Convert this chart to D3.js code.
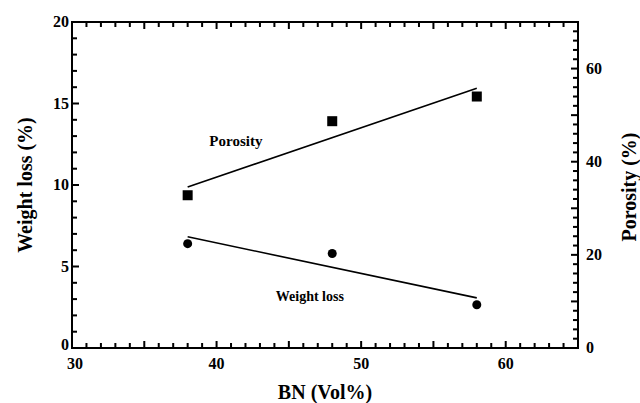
<!DOCTYPE html>
<html>
<head>
<meta charset="utf-8">
<script src="https://cdn.jsdelivr.net/npm/d3@7"></script>
<style>
  body { margin: 0; background: #fff; }
  text { font-family: "Liberation Serif", "Times New Roman", serif; font-weight: bold; fill: #000; }
</style>
</head>
<body>
<div id="chart"></div>
<script>
// BN content (Vol%)
var bn = [38, 48, 58]
// Porosity (%) - right axis, squares
var porosity = [32.8, 48.7, 54.0]
// Weight loss (%) - left axis, circles
var weightLoss = [6.4, 5.8, 2.65]

var xTickLabels = [30, 40, 50, 60]
var leftTickLabels = [0, 5, 10, 15, 20]
var rightTickLabels = [0, 20, 40, 60]

var width = 640, height = 403
var margin = { top: 22, right: 62, bottom: 55, left: 72 }

var svg = d3.select("#chart").append("svg")
    .attr("width", width)
    .attr("height", height)

var x = d3.scaleLinear().domain([30, 65]).range([margin.left, width - margin.right])
var yL = d3.scaleLinear().domain([0, 20]).range([height - margin.bottom, margin.top])
var yR = d3.scaleLinear().domain([0, 70]).range([height - margin.bottom, margin.top])

var bottomY = height - margin.bottom
var rightX = width - margin.right

// frame
svg.append("rect")
    .attr("x", margin.left).attr("y", margin.top)
    .attr("width", rightX - margin.left).attr("height", bottomY - margin.top)
    .attr("fill", "none").attr("stroke", "#000").attr("stroke-width", 2)

// tick marks as small filled bars, pointing into the plot
var tickG = svg.append("g").attr("fill", "#000")
var xt = d3.range(30, 65.01, 1)
var tlen = (d, big) => d % big === 0 ? 7 : 5

tickG.selectAll(".tb").data(xt).enter().append("rect")
    .attr("x", d => x(d) - 1).attr("y", d => bottomY - tlen(d, 5))
    .attr("width", 2).attr("height", d => tlen(d, 5) + 1)
tickG.selectAll(".tt").data(xt).enter().append("rect")
    .attr("x", d => x(d) - 1).attr("y", margin.top - 1)
    .attr("width", 2).attr("height", d => tlen(d, 5) + 1)
tickG.selectAll(".tl").data(d3.range(0, 20.01, 1)).enter().append("rect")
    .attr("x", margin.left - 1).attr("y", d => yL(d) - 1)
    .attr("width", d => tlen(d, 5) + 1).attr("height", 2)
tickG.selectAll(".tr").data(d3.range(0, 70.01, 2)).enter().append("rect")
    .attr("x", d => rightX - tlen(d, 10)).attr("y", d => yR(d) - 1)
    .attr("width", d => tlen(d, 10) + 1).attr("height", 2)

// tick labels
svg.selectAll(".xl").data(xTickLabels).enter().append("text")
    .attr("x", d => x(d) + (d === 30 ? 3 : 0)).attr("y", bottomY + 21)
    .attr("text-anchor", "middle").attr("font-size", 16).text(d => d)
svg.selectAll(".ll").data(leftTickLabels).enter().append("text")
    .attr("x", margin.left - 3).attr("y", d => yL(d) + 5 - (d === 0 ? 3 : 0))
    .attr("text-anchor", "end").attr("font-size", 16).text(d => d)
svg.selectAll(".rl").data(rightTickLabels).enter().append("text")
    .attr("x", rightX + 8).attr("y", d => yR(d) + 5)
    .attr("text-anchor", "start").attr("font-size", 16).text(d => d)

// axis titles
svg.append("text").attr("x", x(47.5)).attr("y", 399)
    .attr("text-anchor", "middle").attr("font-size", 20).text("BN (Vol%)")
svg.append("text").attr("transform", "translate(32,185) rotate(-90)")
    .attr("text-anchor", "middle").attr("font-size", 20).text("Weight loss (%)")
svg.append("text").attr("transform", "translate(636,187) rotate(-90)")
    .attr("text-anchor", "middle").attr("font-size", 20).text("Porosity (%)")

// linear fit lines
function fit(xs, ys) {
    var mx = d3.mean(xs), my = d3.mean(ys)
    var b = d3.sum(xs, (v, i) => (v - mx) * (ys[i] - my)) / d3.sum(xs, v => (v - mx) * (v - mx))
    return v => my + b * (v - mx)
}
var xEnds = d3.extent(bn)
var fp = fit(bn, porosity), fw = fit(bn, weightLoss)

svg.append("line")
    .attr("x1", x(xEnds[0])).attr("y1", yR(fp(xEnds[0])))
    .attr("x2", x(xEnds[1])).attr("y2", yR(fp(xEnds[1])))
    .attr("stroke", "#000").attr("stroke-width", 1.6)
svg.append("line")
    .attr("x1", x(xEnds[0])).attr("y1", yL(fw(xEnds[0])))
    .attr("x2", x(xEnds[1])).attr("y2", yL(fw(xEnds[1])))
    .attr("stroke", "#000").attr("stroke-width", 1.6)

// markers
svg.selectAll(".sq").data(bn).enter().append("rect")
    .attr("x", (d) => x(d) - 5).attr("y", (d, i) => yR(porosity[i]) - 5)
    .attr("width", 10).attr("height", 10).attr("fill", "#000")
svg.selectAll(".ci").data(bn).enter().append("circle")
    .attr("cx", d => x(d)).attr("cy", (d, i) => yL(weightLoss[i]))
    .attr("r", 4.5).attr("fill", "#000")

// series labels
svg.append("text").attr("x", x(39.5)).attr("y", yR(43.3))
    .attr("font-size", 15).text("Porosity")
svg.append("text").attr("x", x(44.1)).attr("y", yL(2.9))
    .attr("font-size", 14).text("Weight loss")
</script>
</body>
</html>
